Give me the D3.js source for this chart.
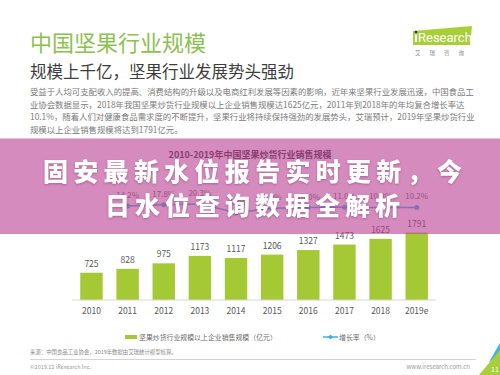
<!DOCTYPE html>
<html>
<head>
<meta charset="utf-8">
<script src="https://cdn.jsdelivr.net/npm/d3@7"></script>
<style>
  body { margin: 0; background: #fff; }
  svg { display: block; font-family: "Noto Sans CJK SC", "Noto Sans", sans-serif; }
</style>
</head>
<body>
<div id="chart"></div>
<script>
// Data
const years = ['2010', '2011', '2012', '2013', '2014', '2015', '2016', '2017', '2018', '2019e']
const sales = [725, 828, 975, 1173, 1117, 1206, 1327, 1473, 1625, 1791]
const growth = [null, 14.2, 17.8, 20.3, -4.8, 8.0, 10.0, 11.0, 10.3, 10.2]

const pageTitle = '中国坚果行业规模'
const pageSubtitle = '规模上千亿，坚果行业发展势头强劲'
const paragraph = [
  '受益于人均可支配收入的提高、消费结构的升级以及电商红利发展等因素的影响，近年来坚果行业发展迅速，中国食品工',
  '业协会数据显示，2018年我国坚果炒货行业规模以上企业销售规模达1625亿元，2011年到2018年的年均复合增长率达',
  '10.1%，随着人们对健康食品需求度的不断提升，坚果行业将持续保持强劲的发展势头，艾瑞预计，2019年坚果炒货行业',
  '规模以上企业销售规模将达到1791亿元。'
]
const chartTitle = '2010-2019年中国坚果炒货行业销售规模'
const legendLabels = ['坚果炒货行业规模以上企业销售规模（亿元）', '增长率（%）']
const bannerLines = ['固安最新水位报告实时更新，今', '日水位查询数据全解析']
const sourceText = '来源：中国食品工业协会，2019年数据由艾瑞统计模型核算。'

async function draw() {
  // Dimensions
  let dimensions = {
    width: 500,
    height: 375,
    left: 73.4,
    right: 434.8,
    baseline: 300,
  }

  const svg = d3.select('#chart')
    .append('svg')
    .attr('width', dimensions.width)
    .attr('height', dimensions.height)

  svg.append('rect')
    .attr('width', dimensions.width)
    .attr('height', dimensions.height)
    .attr('fill', '#ffffff')

  // header
  svg.append('text')
    .attr('x', 30).attr('y', 51)
    .attr('fill', '#8cc152')
    .style('font-size', '22px')
    .text(pageTitle)

  svg.append('text')
    .attr('x', 30).attr('y', 78)
    .attr('fill', '#3d3d3d')
    .style('font-size', '16.5px')
    .text(pageSubtitle)

  svg.append('g')
    .selectAll('text')
    .data(paragraph)
    .join('text')
    .attr('x', 30)
    .attr('y', (d, i) => 95 + i * 12.5)
    .attr('fill', '#7a7a7a')
    .style('font-size', '8.4px')
    .text(d => d)

  // logo
  const logo = svg.append('g')
  logo.append('polygon')
    .attr('points', '413,31 472,26 470,45 413,45')
    .attr('fill', '#a9cf38')
  logo.append('circle')
    .attr('cx', 416).attr('cy', 32).attr('r', 1.3)
    .attr('fill', '#1d2f6f')
  logo.append('rect')
    .attr('x', 415).attr('y', 34.5).attr('width', 2).attr('height', 7.5)
    .attr('fill', '#ffffff')
  logo.append('text')
    .attr('x', 418).attr('y', 42)
    .attr('fill', '#ffffff')
    .style('font-size', '13px')
    .style('font-family', 'Roboto, sans-serif')
    .text('Research')
  logo.append('text')
    .attr('x', 415).attr('y', 55)
    .attr('fill', '#8a8a8a')
    .style('font-size', '5.5px')
    .style('letter-spacing', '9px')
    .text('艾瑞咨询')

  // Scales
  const xScale = d3.scaleBand()
    .domain(years)
    .range([dimensions.left, dimensions.right])
    .paddingInner(0.38)
    .paddingOuter(0.19)

  const yScale = d3.scaleLinear()
    .domain([0, 1791])
    .range([dimensions.baseline, dimensions.baseline - 67.4])

  const gScale = d3.scaleLinear()
    .domain([0, 20])
    .range([211, 204])

  const ctr = svg.append('g')

  // chart title (sits under the banner)
  ctr.append('text')
    .attr('x', 250).attr('y', 158)
    .attr('text-anchor', 'middle')
    .attr('fill', '#404040')
    .style('font-size', '9px')
    .style('font-weight', 'bold')
    .text(chartTitle)

  // bars
  ctr.append('g')
    .selectAll('rect')
    .data(sales)
    .join('rect')
    .attr('x', (d, i) => xScale(years[i]))
    .attr('y', d => yScale(d))
    .attr('width', xScale.bandwidth())
    .attr('height', d => dimensions.baseline - yScale(d))
    .attr('fill', '#a5c934')

  ctr.append('g')
    .selectAll('text')
    .data(sales)
    .join('text')
    .attr('x', (d, i) => xScale(years[i]) + xScale.bandwidth() / 2)
    .attr('y', d => yScale(d) - 6)
    .attr('text-anchor', 'middle')
    .attr('fill', '#595959')
    .style('font-size', '8.5px')
    .text(d => d)

  // x axis
  const xAxis = d3.axisBottom(xScale)
    .tickSize(0)
    .tickPadding(8)

  const xAxisGroup = ctr.append('g')
    .attr('transform', 'translate(0,' + dimensions.baseline + ')')
    .call(xAxis)

  xAxisGroup.select('.domain')
    .attr('d', `M${dimensions.left - 1.5},0H${dimensions.right + 0.5}`)
    .attr('stroke', '#d4d4d4')
  xAxisGroup.selectAll('text')
    .attr('fill', '#595959')
    .style('font-size', '8.5px')
    .style('font-family', '"Noto Sans CJK SC", sans-serif')

  // growth line
  const points = growth
    .map((g, i) => ({ year: years[i], g: g }))
    .filter(d => d.g !== null)

  const lineGenerator = d3.line()
    .x(d => xScale(d.year) + xScale.bandwidth() / 2)
    .y(d => gScale(d.g))

  ctr.append('path')
    .datum(points)
    .attr('d', lineGenerator)
    .attr('fill', 'none')
    .attr('stroke', '#4fb3e6')
    .attr('stroke-width', 1.5)

  ctr.append('g')
    .selectAll('circle')
    .data(points)
    .join('circle')
    .attr('cx', d => xScale(d.year) + xScale.bandwidth() / 2)
    .attr('cy', d => gScale(d.g))
    .attr('r', 2.5)
    .attr('fill', '#4fb3e6')

  ctr.append('g')
    .selectAll('text')
    .data(points)
    .join('text')
    .attr('x', d => xScale(d.year) + xScale.bandwidth() / 2)
    .attr('y', d => gScale(d.g) - 8)
    .attr('text-anchor', 'middle')
    .attr('fill', '#707070')
    .style('font-size', '8px')
    .text(d => d.g.toFixed(1) + '%')

  // legend
  const legend = svg.append('g')
  legend.append('rect')
    .attr('x', 125).attr('y', 335).attr('width', 12).attr('height', 4)
    .attr('fill', '#a5c934')
  legend.append('text')
    .attr('x', 139).attr('y', 339.5)
    .attr('fill', '#6b6b6b')
    .style('font-size', '6.9px')
    .text(legendLabels[0])
  legend.append('line')
    .attr('x1', 323).attr('x2', 338).attr('y1', 337).attr('y2', 337)
    .attr('stroke', '#3cb0e6').attr('stroke-width', 1.5)
  legend.append('path')
    .attr('d', 'M330.5,334.5L333,337L330.5,339.5L328,337Z')
    .attr('fill', '#3cb0e6')
  legend.append('text')
    .attr('x', 339).attr('y', 339.5)
    .attr('fill', '#6b6b6b')
    .style('font-size', '6.9px')
    .text(legendLabels[1])

  // footer
  svg.append('text')
    .attr('x', 30).attr('y', 354)
    .attr('fill', '#8a8a8a')
    .style('font-size', '5.4px')
    .text(sourceText)
  svg.append('line')
    .attr('x1', 30).attr('x2', 476).attr('y1', 359.5).attr('y2', 359.5)
    .attr('stroke', '#c8c8c8').attr('stroke-width', 0.8)
  svg.append('text')
    .attr('x', 30).attr('y', 369)
    .attr('fill', '#9a9a9a')
    .style('font-size', '5.5px')
    .text('©2019.12 iResearch Inc.')
  svg.append('text')
    .attr('x', 470).attr('y', 369)
    .attr('text-anchor', 'end')
    .attr('fill', '#9a9a9a')
    .style('font-size', '6px')
    .text('www.iresearch.com.cn')
  svg.append('polygon')
    .attr('points', '489,362 500,343 500,356')
    .attr('fill', '#45b5e3')
  svg.append('polygon')
    .attr('points', '479,375 500,350 500,375')
    .attr('fill', '#a9cf38')
  svg.append('text')
    .attr('x', 495).attr('y', 372)
    .attr('text-anchor', 'middle')
    .attr('fill', '#ffffff')
    .style('font-size', '7px')
    .text('11')

  // banner overlay
  svg.append('rect')
    .attr('x', 0).attr('y', 138.5)
    .attr('width', dimensions.width).attr('height', 95.5)
    .attr('fill', 'rgb(185,62,145)')
    .attr('opacity', 0.6)

  const bannerX = [43, 105]
  const bannerW = [419, 295]

  svg.append('g')
    .selectAll('text')
    .data(bannerLines)
    .join('text')
    .attr('x', (d, i) => bannerX[i])
    .attr('y', (d, i) => 181 + i * 34)
    .attr('textLength', (d, i) => bannerW[i])
    .attr('lengthAdjust', 'spacing')
    .attr('fill', '#ffffff')
    .style('font-size', '25px')
    .style('font-weight', '900')
    .style('filter', 'drop-shadow(0px 1px 1px rgba(90,30,70,0.35))')
    .text(d => d)
}

draw()
</script>
</body>
</html>
